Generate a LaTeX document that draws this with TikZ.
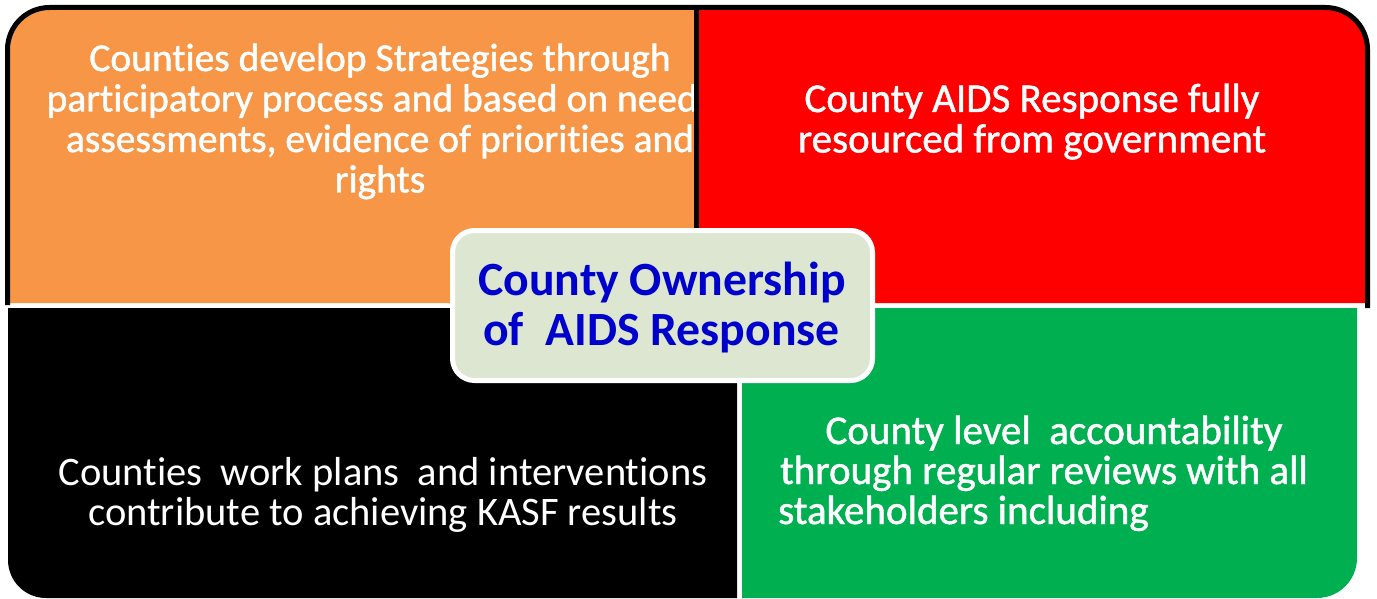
\documentclass[tikz,border=0pt]{standalone}
\usepackage{fontspec}
\setmainfont{Carlito}[Ligatures=NoCommon]
\newfontfamily\qmedium{Carlito}[Ligatures=NoCommon, FakeBold=1.2]
\definecolor{qorange}{HTML}{F79646}
\definecolor{qred}{HTML}{FF0000}
\definecolor{qgreen}{HTML}{00B050}
\definecolor{qbox}{HTML}{DDE6D1}
\definecolor{qblue}{HTML}{0000CC}
\tikzset{
  quadtext/.style={text=white, inner sep=0pt, anchor=base, font=\qmedium\fontsize{39.5}{40.5}\selectfont},
  quadwide/.style={quadtext, font=\qmedium\fontsize{41}{41}\selectfont},
  quadlight/.style={quadtext, font=\fontsize{40.5}{40.5}\selectfont},
  titletext/.style={text=qblue, inner sep=0pt, anchor=base, font=\fontsize{47.7}{50}\selectfont\bfseries},
  outline/.style={draw=black, line width=5pt},
}
\begin{document}
\begin{tikzpicture}[x=1pt,y=-1pt]
\useasboundingbox (0,0) rectangle (1377,599);
% top-left orange
\fill[qorange] (7.5,303) -- (7.5,49.5) arc[start angle=180,end angle=270,radius=42] -- (696,7.5) -- (696,303) -- cycle;
\node[quadtext] (tl1) at (380,71) {Counties develop Strategies through};
\node[quadtext] (tl2) at (380,111.5) {participatory process and based on needs};
\node[quadtext] (tl3) at (380,152) {assessments, evidence of priorities and};
\node[quadtext] (tl4) at (380,192.5) {rights};
% top-right red
\fill[qred] (696,303) -- (696,7.5) -- (1325.5,7.5) arc[start angle=270,end angle=360,radius=42] -- (1367.5,303) -- cycle;
\draw[outline] (7.5,305) -- (7.5,49.5) arc[start angle=180,end angle=270,radius=42] -- (1325.5,7.5) arc[start angle=270,end angle=360,radius=42] -- (1367.5,308);
\draw[outline] (696,7.5) -- (696,303);
\node[quadwide] (tr1) at (1032,112) {County AIDS Response fully};
\node[quadwide] (tr2) at (1032,152.5) {resourced from government};
% bottom-left black
\fill[black] (8,308) -- (737,308) -- (737,598) -- (46,598) arc[start angle=90,end angle=180,radius=38] -- cycle;
\node[quadlight] (bl1) at (383,485) {Counties\ \ work plans\ \ and interventions};
\node[quadlight] (bl2) at (383,525) {contribute to achieving KASF results};
% bottom-right green
\fill[qgreen] (742,308) -- (1357,308) -- (1357,558) arc[start angle=0,end angle=90,radius=40] -- (742,598) -- cycle;
\node[quadwide] (br1) at (1054,444) {County level\ \ accountability};
\node[quadwide] (br2) at (1044,484) {through regular reviews with all};
\node[quadwide, anchor=base west] (br3) at (778,524) {stakeholders including};
% centre box
\node[draw=white, line width=5pt, fill=qbox, rounded corners=22pt, minimum width=420pt, minimum height=150pt, inner sep=0pt] (hub) at (662.5,305.5) {};
\node[titletext] (hub1) at (662,295) {County Ownership};
\node[titletext] (hub2) at (661.5,345) {of\ \ AIDS Response};
\end{tikzpicture}
\end{document}
